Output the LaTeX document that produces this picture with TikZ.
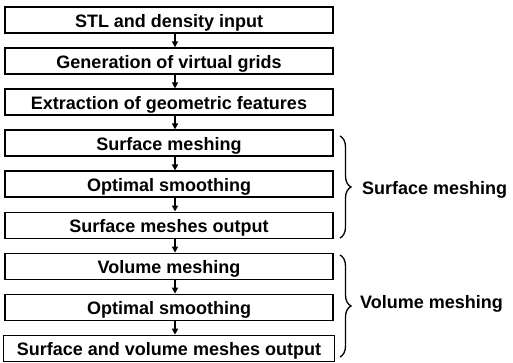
\documentclass[tikz,border=0pt]{standalone}
\usepackage{fontspec}
\setmainfont{Liberation Sans}
\usetikzlibrary{arrows.meta,decorations.pathreplacing}
\begin{document}
\begin{tikzpicture}[x=1pt,y=-1pt,
  box/.style={draw,line width=1.4pt,minimum width=328pt,minimum height=26pt,inner sep=0pt,
    text height=15pt,text depth=0pt,font=\fontsize{18}{20}\selectfont\bfseries},
  arr/.style={line width=1.4pt,-{Triangle[length=6pt,width=6pt]}},
  brc/.style={decorate,decoration={brace,amplitude=11pt},line width=1.3pt},
  lbl/.style={anchor=base west,inner sep=0pt,font=\fontsize{18}{20}\selectfont\bfseries}]
\fill[white] (0,0) rectangle (513,363);
\useasboundingbox (0,0) rectangle (513,363);
\node[box] (n1) at (169,20.0) {STL and density input};
\node[box] (n2) at (169,61.0) {Generation of virtual grids};
\node[box] (n3) at (169,102.1) {Extraction of geometric features};
\node[box] (n4) at (169,143.1) {Surface meshing};
\node[box] (n5) at (169,184.2) {Optimal smoothing};
\node[box] (n6) at (169,225.2) {Surface meshes output};
\node[box] (n7) at (169,266.3) {Volume meshing};
\node[box] (n8) at (169,307.3) {Optimal smoothing};
\node[box,minimum width=331pt] (n9) at (169,348.4) {Surface and volume meshes output};
\foreach \a/\b in {n1/n2,n2/n3,n3/n4,n4/n5,n5/n6,n6/n7,n7/n8,n8/n9}
  \draw[arr] ([xshift=6pt]\a.south) -- ([xshift=6pt]\b.north);
\coordinate (s1) at (340,136);
\coordinate (s2) at (340,238);
\coordinate (v1) at (340,255);
\coordinate (v2) at (340,357);
\draw[brc] (s1) -- (s2);
\draw[brc] (v1) -- (v2);
\node[lbl] (ls) at (362,195) {Surface meshing};
\node[lbl] (lv) at (360,308) {Volume meshing};
\end{tikzpicture}
\end{document}
